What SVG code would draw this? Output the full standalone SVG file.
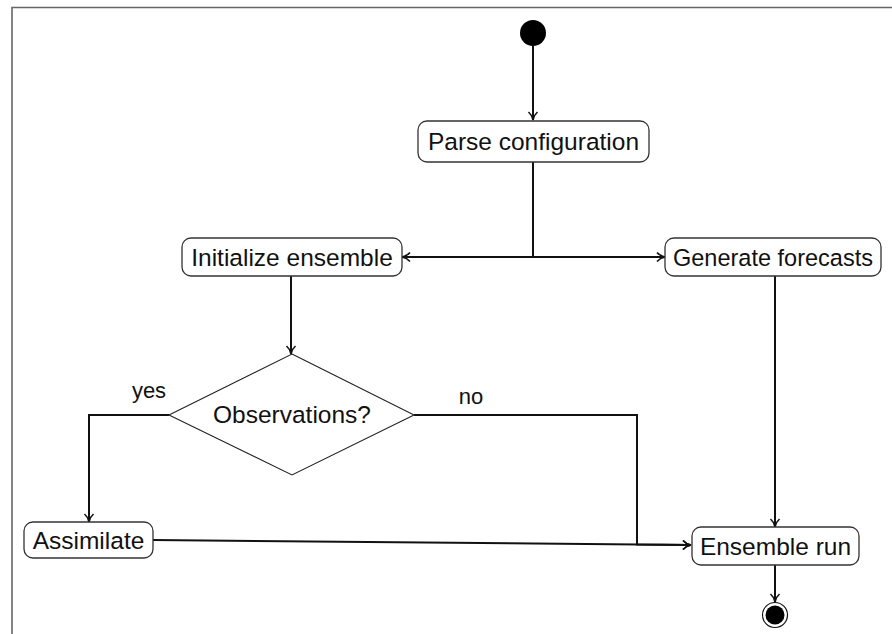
<svg xmlns="http://www.w3.org/2000/svg" width="892" height="634" viewBox="0 0 892 634">
<style>
.box{fill:#fff;stroke:#333;stroke-width:1.3}
.dia{fill:#fff;stroke:#222;stroke-width:1.1}
.lbl{font-family:"Liberation Sans",Arial,sans-serif;font-size:24.5px;fill:#111;text-anchor:middle}
.small{font-family:"Liberation Sans",Arial,sans-serif;font-size:22px;fill:#111;text-anchor:middle}
.edge{fill:none;stroke:#111;stroke-width:2}
</style>
<defs>
<marker id="arr" viewBox="0 0 12 12" refX="11" refY="6" markerWidth="12" markerHeight="12" markerUnits="userSpaceOnUse" orient="auto">
<path d="M3,1.5 Q6,5 11,6 Q6,7 3,10.5" fill="none" stroke="#111" stroke-width="1.6"/>
</marker>
</defs>
<rect x="0" y="0" width="892" height="634" fill="#fff"/>
<path d="M12,634 V7.5 H892" fill="none" stroke="#666" stroke-width="1.6"/>
<g id="connectors">
<path class="edge" d="M533,46 V120" marker-end="url(#arr)"/>
<path class="edge" d="M533,162 V257 H402" marker-end="url(#arr)"/>
<path class="edge" d="M533,257 H665" marker-end="url(#arr)"/>
<path class="edge" d="M291,276 V354" marker-end="url(#arr)"/>
<path class="edge" d="M169,415 H89 V522" marker-end="url(#arr)"/>
<path class="edge" d="M414,415 H637 V544.5 L691,545" marker-end="url(#arr)"/>
<path class="edge" d="M153,540 L691,545" marker-end="url(#arr)"/>
<path class="edge" d="M775,276 V527" marker-end="url(#arr)"/>
<path class="edge" d="M775,565 V602" marker-end="url(#arr)"/>
<text class="small" x="149" y="398">yes</text>
<text class="small" x="471" y="404">no</text>
</g>
<g id="start">
<circle cx="533" cy="33" r="13" fill="#000"/>
</g>
<g id="parse">
<rect class="box" x="418" y="121" width="231" height="41" rx="9"/>
<text class="lbl" x="533.5" y="149.5">Parse configuration</text>
</g>
<g id="initialize">
<rect class="box" x="182" y="238" width="220" height="38" rx="9"/>
<text class="lbl" x="292" y="266">Initialize ensemble</text>
</g>
<g id="generate">
<rect class="box" x="665" y="238" width="216" height="38" rx="9"/>
<text class="lbl" x="773" y="266" textLength="200" lengthAdjust="spacingAndGlyphs">Generate forecasts</text>
</g>
<g id="decision">
<polygon class="dia" points="292,354 414,415 292,475 169,415"/>
<text class="lbl" x="292" y="423">Observations?</text>
</g>
<g id="assimilate">
<rect class="box" x="24" y="522" width="129" height="36" rx="9"/>
<text class="lbl" x="88.5" y="548.5">Assimilate</text>
</g>
<g id="ensemble">
<rect class="box" x="692" y="527" width="167" height="38" rx="9"/>
<text class="lbl" x="775.5" y="555">Ensemble run</text>
</g>
<g id="end">
<circle cx="775" cy="615" r="12.5" fill="#fff" stroke="#111" stroke-width="1.2"/>
<circle cx="775" cy="615" r="9.5" fill="#000"/>
</g>
</svg>
